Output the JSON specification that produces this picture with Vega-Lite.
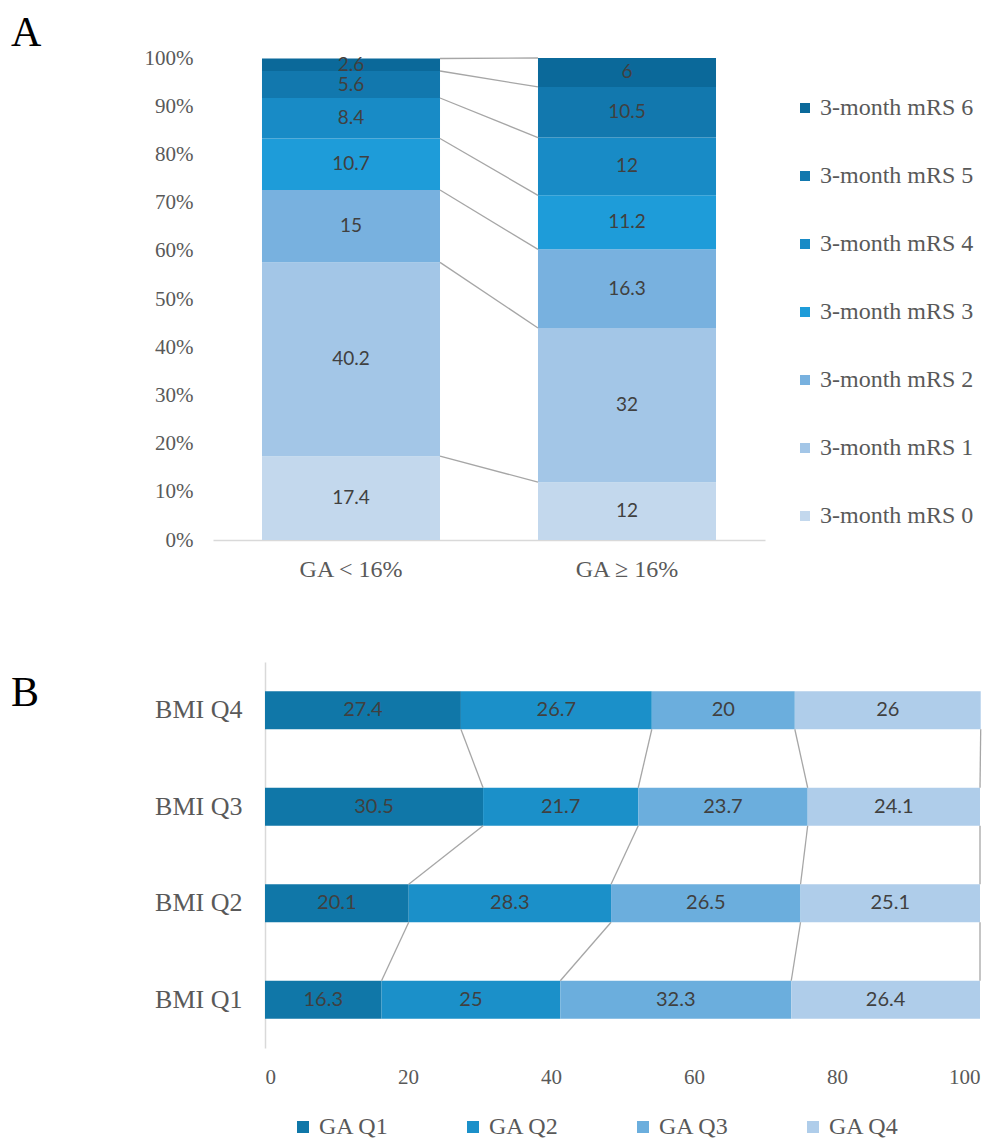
{
  "$schema": "https://vega.github.io/schema/vega-lite/v6.json",
  "background": "white",
  "padding": {"left": 11, "top": 12, "right": 0, "bottom": 0},
  "bounds": "flush",
  "spacing": 122,
  "resolve": {"scale": {"color": "independent"}, "legend": {"color": "independent"}},
  "config": {
    "view": {"stroke": null},
    "axis": {"grid": false, "ticks": false, "domainColor": "#d9d9d9", "labelColor": "#595959", "labelFont": "Liberation Serif"}
  },
  "vconcat": [
    {
      "width": 552,
      "height": 482,
      "title": {"text": "A", "anchor": "start", "frame": "group", "dx": -202, "dy": 41, "offset": 0, "baseline": "alphabetic", "font": "Liberation Serif", "fontSize": 42, "fontWeight": "normal", "color": "#000000"},
      "data": {"values": [
        {"group": "GA < 16%", "mrs": "3-month mRS 0", "value": 17.4},
        {"group": "GA < 16%", "mrs": "3-month mRS 1", "value": 40.2},
        {"group": "GA < 16%", "mrs": "3-month mRS 2", "value": 15},
        {"group": "GA < 16%", "mrs": "3-month mRS 3", "value": 10.7},
        {"group": "GA < 16%", "mrs": "3-month mRS 4", "value": 8.4},
        {"group": "GA < 16%", "mrs": "3-month mRS 5", "value": 5.6},
        {"group": "GA < 16%", "mrs": "3-month mRS 6", "value": 2.6},
        {"group": "GA ≥ 16%", "mrs": "3-month mRS 0", "value": 12},
        {"group": "GA ≥ 16%", "mrs": "3-month mRS 1", "value": 32},
        {"group": "GA ≥ 16%", "mrs": "3-month mRS 2", "value": 16.3},
        {"group": "GA ≥ 16%", "mrs": "3-month mRS 3", "value": 11.2},
        {"group": "GA ≥ 16%", "mrs": "3-month mRS 4", "value": 12},
        {"group": "GA ≥ 16%", "mrs": "3-month mRS 5", "value": 10.5},
        {"group": "GA ≥ 16%", "mrs": "3-month mRS 6", "value": 6}
      ]},
      "encoding": {
        "x": {"field": "group", "type": "nominal", "title": null,
              "scale": {"domain": ["GA < 16%", "GA ≥ 16%"], "paddingInner": 0.355, "paddingOuter": 0.1775},
              "axis": {"labelAngle": 0, "labelFontSize": 24, "labelPadding": 17, "domain": true, "domainColor": "#d9d9d9", "domainWidth": 1.5}},
        "y": {"field": "value", "type": "quantitative", "stack": "zero", "title": null,
              "scale": {"domain": [0, 100], "nice": false},
              "axis": {"domain": false, "values": [0, 10, 20, 30, 40, 50, 60, 70, 80, 90, 100], "labelExpr": "datum.value + '%'", "labelFontSize": 21, "labelPadding": 20}},
        "order": {"field": "mrs", "type": "ordinal", "sort": "ascending"}
      },
      "layer": [
        {
          "mark": {"type": "bar"},
          "encoding": {
            "color": {"field": "mrs", "type": "nominal",
                      "scale": {"domain": ["3-month mRS 6", "3-month mRS 5", "3-month mRS 4", "3-month mRS 3", "3-month mRS 2", "3-month mRS 1", "3-month mRS 0"],
                                "range": ["#0b699a", "#1278ae", "#188bc6", "#1e9cd9", "#78b1df", "#a3c6e7", "#c3d8ed"]},
                      "legend": {"orient": "none", "legendX": 580, "legendY": 38, "title": null, "symbolType": "square", "symbolSize": 100, "symbolStrokeWidth": 0, "labelFont": "Liberation Serif", "labelFontSize": 24, "labelColor": "#595959", "rowPadding": 44, "labelOffset": 3, "padding": 0}}
          }
        },
        {
          "mark": {"type": "text", "font": "Lato", "fontSize": 19, "color": "#404040"},
          "encoding": {
            "y": {"field": "value", "type": "quantitative", "stack": "zero", "bandPosition": 0.5, "title": null},
            "text": {"field": "value", "type": "quantitative"}
          }
        },
        {
          "transform": [
            {"stack": "value", "groupby": ["group"], "sort": [{"field": "mrs", "order": "ascending"}], "as": ["lo", "hi"]},
            {"pivot": "group", "value": "hi", "groupby": ["mrs"]}
          ],
          "mark": {"type": "rule", "color": "#a6a6a6", "strokeWidth": 1.3},
          "encoding": {
            "x": {"datum": "GA < 16%", "type": "nominal", "bandPosition": 1, "title": null},
            "x2": {"datum": "GA ≥ 16%", "bandPosition": 0},
            "y": {"field": "GA < 16%", "type": "quantitative", "title": null},
            "y2": {"field": "GA ≥ 16%"}
          }
        }
      ]
    },
    {
      "width": 767,
      "height": 386,
      "title": {"text": "B", "anchor": "start", "frame": "group", "dx": -202, "dy": 86, "offset": 0, "baseline": "alphabetic", "font": "Liberation Serif", "fontSize": 42, "fontWeight": "normal", "color": "#000000"},
      "data": {"values": [
        {"bmi": "BMI Q4", "ga": "GA Q1", "value": 27.4},
        {"bmi": "BMI Q4", "ga": "GA Q2", "value": 26.7},
        {"bmi": "BMI Q4", "ga": "GA Q3", "value": 20},
        {"bmi": "BMI Q4", "ga": "GA Q4", "value": 26},
        {"bmi": "BMI Q3", "ga": "GA Q1", "value": 30.5},
        {"bmi": "BMI Q3", "ga": "GA Q2", "value": 21.7},
        {"bmi": "BMI Q3", "ga": "GA Q3", "value": 23.7},
        {"bmi": "BMI Q3", "ga": "GA Q4", "value": 24.1},
        {"bmi": "BMI Q2", "ga": "GA Q1", "value": 20.1},
        {"bmi": "BMI Q2", "ga": "GA Q2", "value": 28.3},
        {"bmi": "BMI Q2", "ga": "GA Q3", "value": 26.5},
        {"bmi": "BMI Q2", "ga": "GA Q4", "value": 25.1},
        {"bmi": "BMI Q1", "ga": "GA Q1", "value": 16.3},
        {"bmi": "BMI Q1", "ga": "GA Q2", "value": 25},
        {"bmi": "BMI Q1", "ga": "GA Q3", "value": 32.3},
        {"bmi": "BMI Q1", "ga": "GA Q4", "value": 26.4}
      ]},
      "encoding": {
        "y": {"field": "bmi", "type": "nominal", "title": null,
              "scale": {"domain": ["BMI Q4", "BMI Q3", "BMI Q2", "BMI Q1"], "paddingInner": 0.606, "paddingOuter": 0.303},
              "axis": {"offset": -52, "domain": true, "domainColor": "#d9d9d9", "domainWidth": 1.5, "labelFontSize": 26, "labelPadding": 23}},
        "x": {"field": "value", "type": "quantitative", "stack": "zero", "title": null,
              "scale": {"domain": [0, 100], "range": [52, 767], "nice": false},
              "axis": {"domain": false, "values": [0, 20, 40, 60, 80, 100], "labelFontSize": 21, "labelPadding": 18}},
        "order": {"field": "ga", "type": "ordinal", "sort": "ascending"}
      },
      "layer": [
        {
          "mark": {"type": "bar"},
          "encoding": {
            "color": {"field": "ga", "type": "nominal",
                      "scale": {"domain": ["GA Q1", "GA Q2", "GA Q3", "GA Q4"], "range": ["#1077a8", "#1b90c9", "#6baedd", "#afcdea"]},
                      "legend": {"orient": "none", "legendX": 78, "legendY": 453, "direction": "horizontal", "columns": 4, "columnPadding": 72, "title": null, "symbolType": "square", "symbolSize": 144, "symbolStrokeWidth": 0, "labelFont": "Liberation Serif", "labelFontSize": 24, "labelColor": "#595959", "labelOffset": 4, "padding": 0}}
          }
        },
        {
          "mark": {"type": "text", "font": "Lato", "fontSize": 20, "color": "#404040"},
          "encoding": {
            "x": {"field": "value", "type": "quantitative", "stack": "zero", "bandPosition": 0.5, "title": null},
            "text": {"field": "value", "type": "quantitative"}
          }
        },
        {
          "transform": [
            {"stack": "value", "groupby": ["bmi"], "sort": [{"field": "ga", "order": "ascending"}], "as": ["lo", "hi"]},
            {"pivot": "bmi", "value": "hi", "groupby": ["ga"]}
          ],
          "layer": [
            {
              "mark": {"type": "rule", "color": "#a6a6a6", "strokeWidth": 1.3},
              "encoding": {
                "x": {"field": "BMI Q4", "type": "quantitative", "title": null},
                "x2": {"field": "BMI Q3"},
                "y": {"datum": "BMI Q4", "type": "nominal", "bandPosition": 1, "title": null},
                "y2": {"datum": "BMI Q3", "bandPosition": 0}
              }
            },
            {
              "mark": {"type": "rule", "color": "#a6a6a6", "strokeWidth": 1.3},
              "encoding": {
                "x": {"field": "BMI Q3", "type": "quantitative", "title": null},
                "x2": {"field": "BMI Q2"},
                "y": {"datum": "BMI Q3", "type": "nominal", "bandPosition": 1, "title": null},
                "y2": {"datum": "BMI Q2", "bandPosition": 0}
              }
            },
            {
              "mark": {"type": "rule", "color": "#a6a6a6", "strokeWidth": 1.3},
              "encoding": {
                "x": {"field": "BMI Q2", "type": "quantitative", "title": null},
                "x2": {"field": "BMI Q1"},
                "y": {"datum": "BMI Q2", "type": "nominal", "bandPosition": 1, "title": null},
                "y2": {"datum": "BMI Q1", "bandPosition": 0}
              }
            }
          ]
        }
      ]
    }
  ]
}
